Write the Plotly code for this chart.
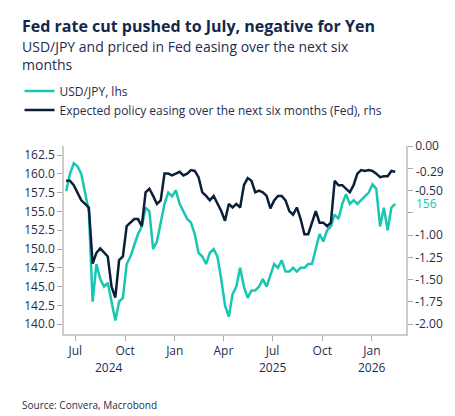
import pandas as pd
import plotly.graph_objects as go

dates = pd.date_range("2024-06-14", periods=88, freq="7D")

usdjpy = [
    157.7, 160.0, 161.4, 161.0, 160.0, 157.5, 155.0, 143.0, 148.0, 146.0,
    145.0, 145.5, 143.0, 140.5, 143.0, 143.5, 148.0, 149.0, 150.5, 152.0,
    153.0, 155.5, 155.0, 150.0, 151.0, 153.5, 156.0, 157.5, 157.0, 157.8,
    156.0, 155.0, 154.0, 153.5, 152.0, 149.5, 149.0, 148.0, 149.5, 150.0,
    149.0, 146.0, 142.5, 141.0, 144.0, 145.0, 147.5, 145.0, 143.5, 144.5,
    144.5, 145.0, 146.0, 145.0, 146.5, 148.0, 147.5, 148.5, 147.0, 147.0,
    147.5, 147.0, 147.5, 147.5, 148.0, 148.0, 150.0, 152.0, 151.0, 152.5,
    153.0, 154.6, 154.0, 156.0, 157.3, 156.0, 156.5, 156.0, 156.5, 157.0,
    157.5, 158.6, 158.0, 153.0, 155.5, 152.5, 155.5, 156.0,
]

fed_easing = [
    -0.39, -0.39, -0.44, -0.52, -0.61, -0.65, -0.69, -1.32, -1.20, -1.15,
    -1.20, -1.24, -1.58, -1.70, -1.28, -1.24, -0.90, -0.86, -0.82, -0.82,
    -0.90, -0.52, -0.48, -0.56, -0.65, -0.61, -0.31, -0.31, -0.33, -0.31,
    -0.29, -0.33, -0.31, -0.27, -0.28, -0.35, -0.52, -0.56, -0.61, -0.56,
    -0.65, -0.73, -0.84, -0.65, -0.69, -0.65, -0.69, -0.44, -0.36, -0.39,
    -0.52, -0.50, -0.52, -0.56, -0.70, -0.61, -0.56, -0.56, -0.61, -0.73,
    -0.77, -0.69, -0.82, -0.99, -0.99, -0.86, -0.73, -0.86, -0.86, -0.90,
    -0.86, -0.39, -0.44, -0.44, -0.48, -0.52, -0.44, -0.31, -0.27, -0.28,
    -0.27, -0.28, -0.31, -0.35, -0.34, -0.34, -0.28, -0.29,
]

tick_dates = ["2024-07-01", "2024-10-01", "2025-01-01", "2025-04-01",
              "2025-07-01", "2025-10-01", "2026-01-01"]
tick_labels = ["Jul", "Oct", "Jan", "Apr", "Jul", "Oct", "Jan"]
year_labels = [("2024-09-01", "2024"), ("2025-07-01", "2025"), ("2026-01-01", "2026")]

left_ticks = [140.0, 142.5, 145.0, 147.5, 150.0, 152.5, 155.0, 157.5, 160.0, 162.5]
right_ticks = [0.0, -0.25, -0.5, -0.75, -1.0, -1.25, -1.5, -1.75, -2.0]
right_labels = ["0.00", "", "-0.50", "", "-1.00", "-1.25", "-1.50", "-1.75", "-2.00"]

TEAL = "#19c6b1"
NAVY = "#0b1f3a"
TEXT = "#1f2d4d"
FONT = "Open Sans"

fig = go.Figure()
fig.add_trace(go.Scatter(x=dates, y=usdjpy, name="USD/JPY, lhs",
                         line=dict(color=TEAL, width=2.5), yaxis="y"))
fig.add_trace(go.Scatter(x=dates, y=fed_easing,
                         name="Expected policy easing over the next six months (Fed), rhs",
                         line=dict(color=NAVY, width=2.5), yaxis="y2"))

axis_common = dict(showgrid=False, zeroline=False, showline=True, linecolor="#cccccc",
                   linewidth=1.5, ticks="outside", ticklen=5, tickcolor="#aaaaaa",
                   tickfont=dict(size=12, color=TEXT, family=FONT))

fig.update_layout(
    width=455, height=416,
    margin=dict(l=52, r=57, t=138, b=90),
    paper_bgcolor="white", plot_bgcolor="white",
    font=dict(family=FONT, color=TEXT),
    showlegend=True,
    legend=dict(x=-0.13, y=1.37, xanchor="left", yanchor="top", bgcolor="rgba(0,0,0,0)",
                font=dict(size=12, color=TEXT), tracegroupgap=2, itemwidth=30),
    xaxis=dict(axis_common, tickvals=tick_dates, ticktext=tick_labels,
               range=["2024-06-10", "2026-03-05"]),
    yaxis=dict(axis_common, range=[138.7, 163.7], tickvals=left_ticks,
               tickformat=".1f"),
    yaxis2=dict(axis_common, overlaying="y", side="right", range=[-2.11, 0.0],
                tickvals=right_ticks, ticktext=right_labels),
)

fig.add_annotation(text="<b>Fed rate cut pushed to July, negative for Yen</b>",
                   xref="paper", yref="paper", x=-0.13, y=1.71, xanchor="left",
                   yanchor="top", showarrow=False, font=dict(size=16, color="#12284c"))
fig.add_annotation(text="USD/JPY and priced in Fed easing over the next six<br>months",
                   xref="paper", yref="paper", x=-0.13, y=1.59, xanchor="left",
                   yanchor="top", showarrow=False, align="left",
                   font=dict(size=14, color=TEXT))
fig.add_annotation(text="Source: Convera, Macrobond", xref="paper", yref="paper",
                   x=-0.13, y=-0.33, xanchor="left", yanchor="top", showarrow=False,
                   font=dict(size=10, color=TEXT))

for d, label in year_labels:
    fig.add_annotation(text=label, x=d, xref="x", yref="paper", y=-0.12,
                       yanchor="top", showarrow=False, font=dict(size=12, color=TEXT))

# last-value labels on the right axis
fig.add_annotation(text=f"{fed_easing[-1]:.2f}", xref="paper", x=1.0, xshift=8,
                   yref="y2", y=fed_easing[-1], xanchor="left", showarrow=False,
                   bgcolor="white", font=dict(size=12, color=TEXT))
fig.add_annotation(text=f"{usdjpy[-1]:.0f}", xref="paper", x=1.0, xshift=8,
                   yref="y", y=usdjpy[-1], xanchor="left", showarrow=False,
                   font=dict(size=12, color=TEAL))

fig.write_html("out.html")
